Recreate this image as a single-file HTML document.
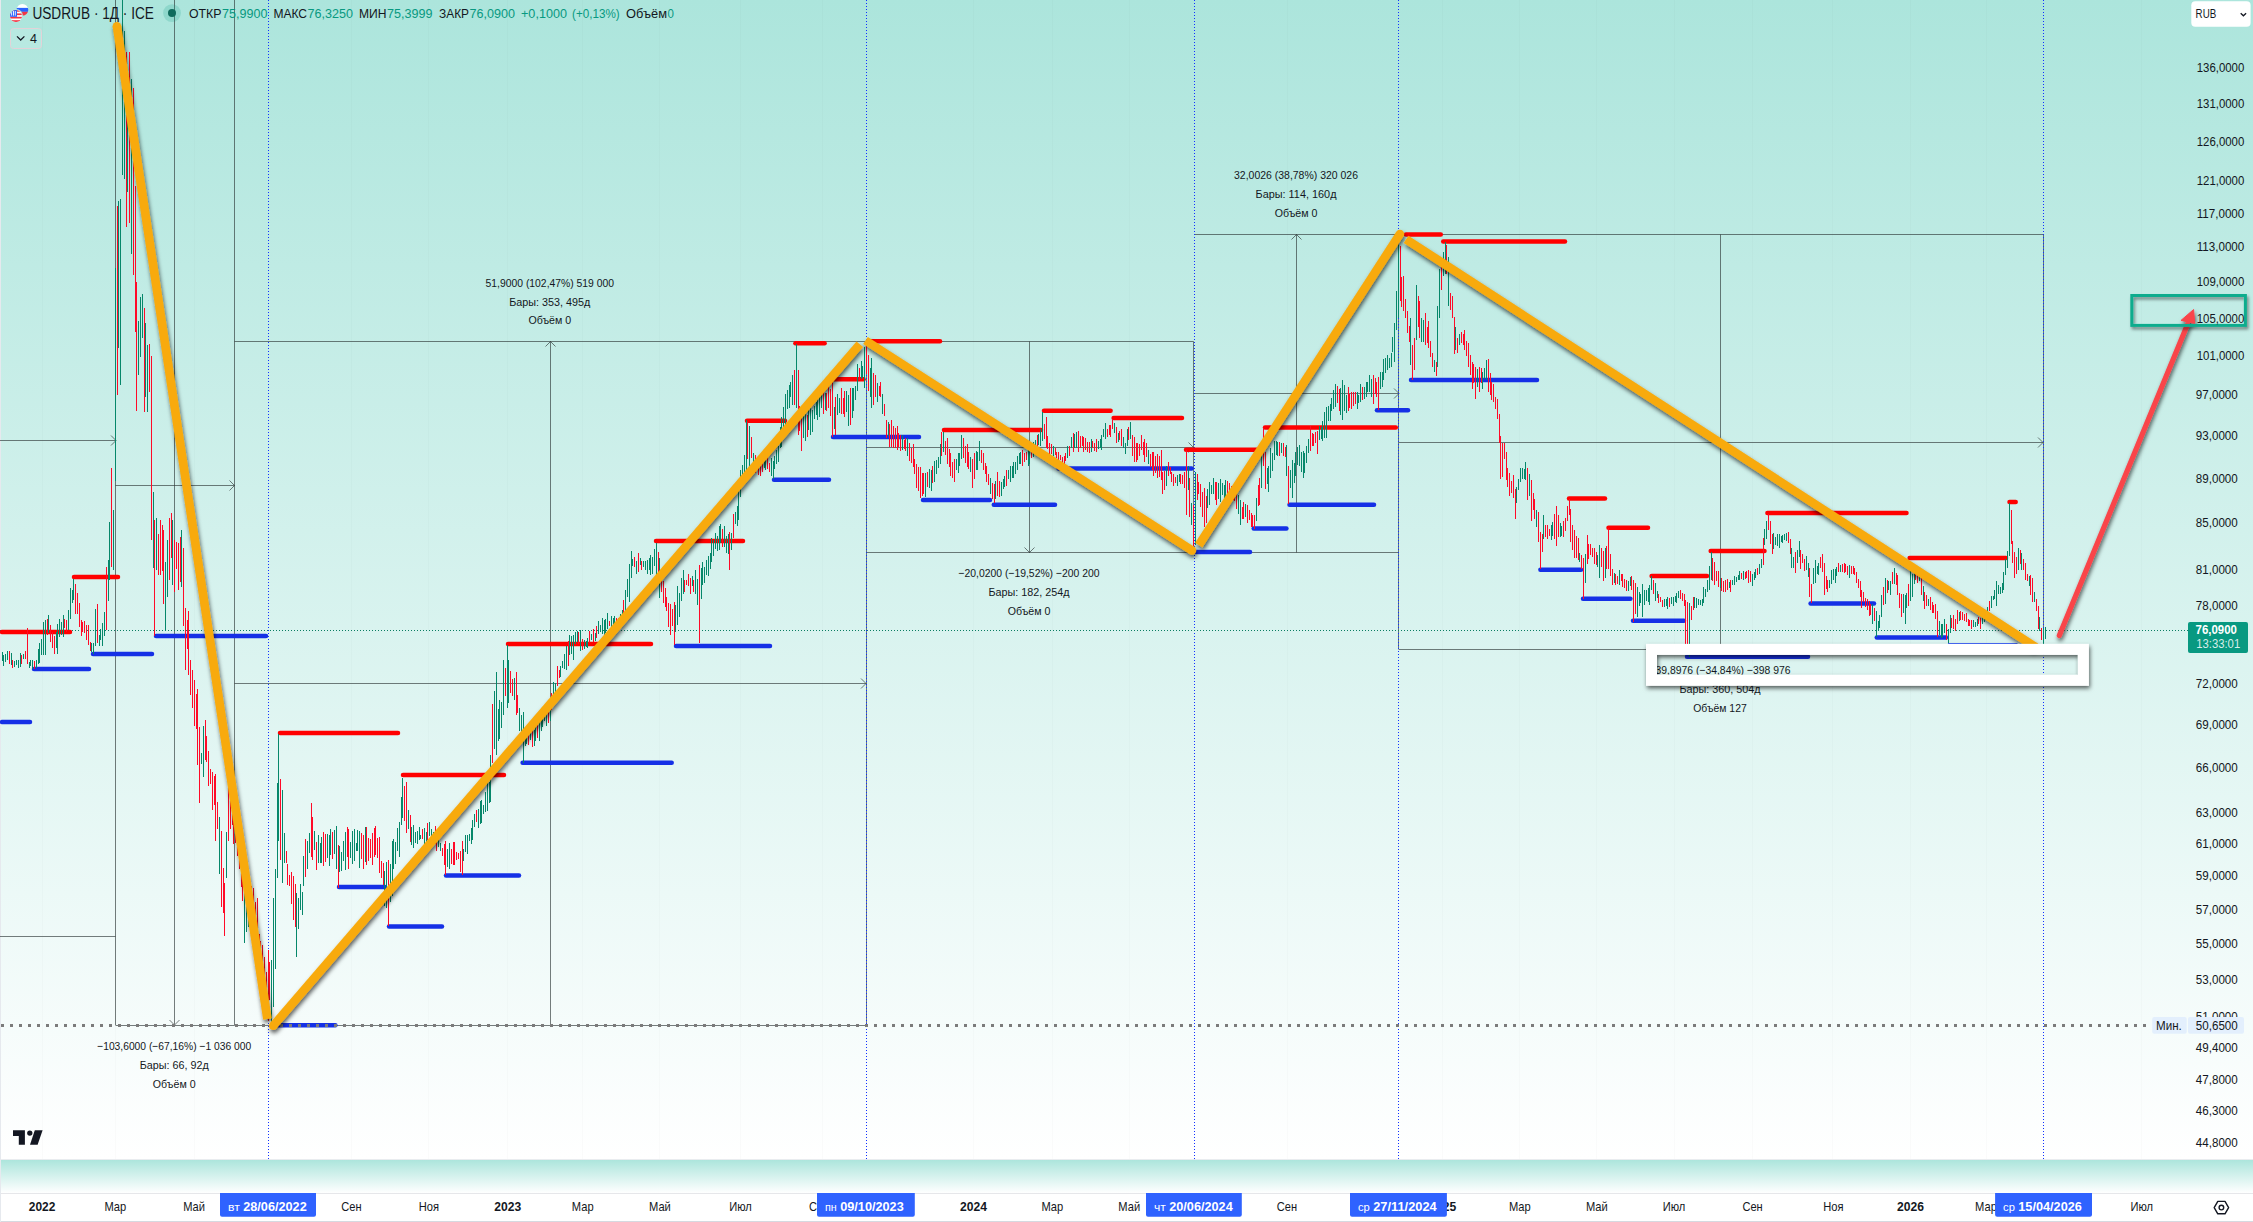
<!DOCTYPE html>
<html><head><meta charset="utf-8"><title>USDRUB</title>
<style>html,body{margin:0;padding:0;background:#fff;}body{width:2253px;height:1222px;overflow:hidden;font-family:"Liberation Sans", sans-serif;}svg{display:block;font-family:"Liberation Sans", sans-serif;}</style></head><body>
<svg width="2253" height="1222" viewBox="0 0 2253 1222">
<defs>
<linearGradient id="g1" x1="0" y1="0" x2="0" y2="1"><stop offset="0" stop-color="#ace5dc"/><stop offset="1" stop-color="#ffffff"/></linearGradient>
<filter id="sh" x="-5%" y="-5%" width="110%" height="110%" filterUnits="userSpaceOnUse" primitiveUnits="userSpaceOnUse"><feDropShadow dx="1" dy="3" stdDeviation="1.9" flood-color="#000" flood-opacity="0.62"/></filter>
<filter id="sh2" filterUnits="userSpaceOnUse" x="1600" y="600" width="560" height="140"><feDropShadow dx="1" dy="2.5" stdDeviation="2" flood-color="#000" flood-opacity="0.62"/></filter>
<filter id="sh3" filterUnits="userSpaceOnUse" x="2100" y="270" width="153" height="90"><feDropShadow dx="1.5" dy="2.5" stdDeviation="1.8" flood-color="#000" flood-opacity="0.45"/></filter>
<clipPath id="mainclip"><rect x="0" y="0" width="2253" height="1159"/></clipPath>
</defs>
<rect x="0" y="0" width="2253" height="1159" fill="url(#g1)"/>
<rect x="0" y="1160" width="2253" height="33" fill="url(#g1)"/>
<rect x="0" y="1193" width="2253" height="29" fill="#ffffff"/>
<rect x="0" y="1159" width="2253" height="1" fill="#e9ecef"/>
<rect x="0" y="1193" width="2253" height="1" fill="#e6e7ea"/>
<rect x="0" y="1221" width="2253" height="1" fill="#d6d9e0"/>
<rect x="0" y="0" width="1" height="1222" fill="#e6e9ee"/>
<g clip-path="url(#mainclip)">
<g stroke="#000" stroke-opacity="0.014" stroke-width="1" shape-rendering="crispEdges"><path d="M42.5 0V1159"/><path d="M115.5 0V1159"/><path d="M194.5 0V1159"/><path d="M351.5 0V1159"/><path d="M428.5 0V1159"/><path d="M507.5 0V1159"/><path d="M582.5 0V1159"/><path d="M659.5 0V1159"/><path d="M740.5 0V1159"/><path d="M822.5 0V1159"/><path d="M973.5 0V1159"/><path d="M1052.5 0V1159"/><path d="M1129.5 0V1159"/><path d="M1287.5 0V1159"/><path d="M1442.5 0V1159"/><path d="M1519.5 0V1159"/><path d="M1596.5 0V1159"/><path d="M1674.5 0V1159"/><path d="M1752.5 0V1159"/><path d="M1832.5 0V1159"/><path d="M1910.5 0V1159"/><path d="M1986.5 0V1159"/><path d="M2141.5 0V1159"/></g>
<path d="M0.0 440.5L116.0 440.5M111.0 435.5L116.0 440.5M111.0 445.5L116.0 440.5M0.0 936.5L115.5 936.5M115.5 0.0L115.5 1025.0M234.5 0.0L234.5 1025.0M174.5 0.0L174.5 1025.0M169.5 1020.0L174.5 1025.0M179.5 1020.0L174.5 1025.0M115.5 485.5L234.5 485.5M115.5 1025.5L234.5 1025.5M229.5 480.5L234.5 485.5M229.5 490.5L234.5 485.5M234.5 341.5L1193.5 341.5M234.5 1025.5L866.0 1025.5M550.5 341.5L550.5 1025.0M545.5 346.5L550.5 341.5M555.5 346.5L550.5 341.5M234.5 683.5L866.0 683.5M861.0 678.5L866.0 683.5M861.0 688.5L866.0 683.5M866.5 552.5L1399.0 552.5M1029.5 341.5L1029.5 552.5M1024.5 547.5L1029.5 552.5M1034.5 547.5L1029.5 552.5M866.5 447.5L1193.5 447.5M1188.5 442.5L1193.5 447.5M1188.5 452.5L1193.5 447.5M1194.5 234.5L2043.5 234.5M1296.5 234.5L1296.5 552.5M1291.5 239.5L1296.5 234.5M1301.5 239.5L1296.5 234.5M1194.5 393.5L1399.0 393.5M1394.0 388.5L1399.0 393.5M1394.0 398.5L1399.0 393.5M1398.5 234.5L1398.5 649.5M866.5 341.5L866.5 1025.5M1193.5 341.5L1193.5 552.5M2043.5 234.5L2043.5 649.5M1399.0 649.5L1660.0 649.5M1720.5 234.5L1720.5 649.5M1399.0 442.5L2043.0 442.5M2038.0 437.5L2043.0 442.5M2038.0 447.5L2043.0 442.5" stroke="#2a3433" stroke-opacity="0.64" stroke-width="1" fill="none"/>
<path d="M268.5 0V1159" stroke="#1030ff" stroke-width="1" stroke-dasharray="1 2" shape-rendering="crispEdges"/>
<path d="M866.5 0V1159" stroke="#1030ff" stroke-width="1" stroke-dasharray="1 2" shape-rendering="crispEdges"/>
<path d="M1194.5 0V1159" stroke="#1030ff" stroke-width="1" stroke-dasharray="1 2" shape-rendering="crispEdges"/>
<path d="M1398.5 0V1159" stroke="#1030ff" stroke-width="1" stroke-dasharray="1 2" shape-rendering="crispEdges"/>
<path d="M2043.5 0V1159" stroke="#1030ff" stroke-width="1" stroke-dasharray="1 2" shape-rendering="crispEdges"/>
<path d="M0 630.5H2188" stroke="#0a7d62" stroke-width="1" stroke-dasharray="1 2" shape-rendering="crispEdges"/>
<g stroke="#ff0000" stroke-width="4.5" stroke-linecap="round" fill="none"><path d="M2.0 632.0H70.0"/><path d="M74.0 577.0H118.0"/><path d="M280.0 733.0H398.0"/><path d="M403.0 775.0H504.0"/><path d="M508.0 644.0H651.0"/><path d="M656.0 541.0H743.0"/><path d="M747.0 420.8H785.0"/><path d="M795.4 343.2H824.6"/><path d="M833.7 379.2H863.6"/><path d="M869.0 341.2H940.0"/><path d="M944.0 430.0H1041.0"/><path d="M1044.0 410.7H1110.6"/><path d="M1113.6 418.0H1182.0"/><path d="M1186.0 449.8H1261.0"/><path d="M1265.0 427.4H1395.8"/><path d="M1406.0 234.5H1440.8"/><path d="M1443.2 241.6H1565.0"/><path d="M1569.0 498.6H1605.0"/><path d="M1608.5 527.7H1648.0"/><path d="M1651.6 575.9H1707.0"/><path d="M1710.7 551.0H1764.5"/><path d="M1767.4 513.0H1906.5"/><path d="M1909.6 558.0H2006.0"/><path d="M2009.5 502.0H2015.7"/></g>
<g stroke="#1530e6" stroke-width="4.5" stroke-linecap="round" fill="none"><path d="M2.0 722.0H30.0"/><path d="M34.0 669.0H89.0"/><path d="M93.0 654.0H152.0"/><path d="M156.0 636.0H266.0"/><path d="M272.0 1025.2H335.4"/><path d="M339.0 887.0H385.0"/><path d="M389.0 926.5H442.0"/><path d="M446.0 875.4H519.0"/><path d="M522.6 762.7H671.7"/><path d="M676.0 646.0H770.0"/><path d="M774.0 479.7H829.0"/><path d="M833.0 437.0H919.0"/><path d="M923.0 500.0H990.0"/><path d="M993.8 504.8H1055.0"/><path d="M1058.6 468.6H1191.7"/><path d="M1196.0 552.0H1250.0"/><path d="M1253.7 528.4H1286.4"/><path d="M1289.5 504.7H1374.0"/><path d="M1377.0 410.2H1408.0"/><path d="M1411.0 380.0H1537.0"/><path d="M1540.4 569.7H1581.0"/><path d="M1583.0 598.8H1630.4"/><path d="M1633.0 620.8H1684.0"/><path d="M1687.0 656.8H1808.0"/><path d="M1810.6 603.5H1874.0"/><path d="M1876.8 637.5H1946.0"/></g>
<path d="M1948 643.5H2017.5" stroke="#2a50f0" stroke-width="1.2"/>
<path d="M2.5 652.0V661.0M3.5 654.6V666.0M5.5 653.6V661.7M7.5 651.0V659.5M11.5 653.0V665.0M14.5 661.0V666.8M16.5 660.4V664.7M18.5 659.5V667.7M20.5 653.0V666.8M23.5 653.9V659.0M29.5 662.0V667.7M30.5 660.4V665.6M32.5 659.5V669.0M36.5 659.5V667.7M38.5 649.2V664.4M39.5 643.0V662.7M41.5 639.0V654.6M43.5 621.8V654.6M45.5 620.0V654.6M48.5 615.0V633.0M56.5 631.8V647.9M57.5 623.5V653.7M59.5 619.0V636.5M61.5 621.8V635.0M63.5 615.0V636.5M68.5 609.5V630.0M70.5 588.0V618.5M72.5 590.0V603.0M73.5 578.5V599.7M91.5 643.0V651.7M93.5 643.0V653.7M95.5 608.7V646.0M99.5 635.0V645.6M100.5 628.6V639.6M102.5 622.6V645.6M104.5 612.0V635.7M108.5 560.0V600.5M109.5 522.0V580.3M113.5 510.0V570.0M115.5 268.0V481.0M118.5 200.5V347.6M120.5 199.0V385.0M122.5 0.0V175.0M124.5 31.0V179.0M127.5 104.8V192.4M131.5 79.0V254.0M138.5 321.3V375.4M140.5 297.0V357.0M142.5 294.0V338.0M145.5 323.4V397.2M147.5 345.0V412.0M153.5 492.0V568.0M156.5 518.0V570.0M165.5 562.0V631.0M167.5 539.5V597.1M172.5 520.0V585.0M181.5 530.0V587.0M201.5 752.5V764.3M203.5 725.9V777.4M219.5 816.9V874.0M226.5 832.1V878.3M244.5 874.0V943.0M246.5 888.3V931.8M248.5 895.1V926.7M250.5 891.4V913.5M271.5 960.0V1026.0M273.5 898.0V1007.0M275.5 869.0V969.0M277.5 783.1V877.5M278.5 734.0V841.0M282.5 790.0V883.0M284.5 833.0V862.7M296.5 893.0V957.0M298.5 897.5V929.1M300.5 884.1V910.4M302.5 891.8V915.1M303.5 856.1V886.3M307.5 840.6V869.3M309.5 833.1V853.4M314.5 830.7V850.3M318.5 834.6V862.9M320.5 843.3V862.7M321.5 837.0V862.8M327.5 834.4V858.4M329.5 835.0V865.9M330.5 829.4V854.9M334.5 830.1V853.5M336.5 826.0V869.0M339.5 846.2V871.9M341.5 851.6V870.8M343.5 841.4V861.1M345.5 831.6V870.1M350.5 842.2V857.5M352.5 830.8V864.3M354.5 828.8V861.0M356.5 843.0V851.0M357.5 829.5V850.6M359.5 831.1V867.8M365.5 827.3V862.4M384.5 870.8V905.7M386.5 861.9V908.1M390.5 864.3V902.4M392.5 841.0V896.0M393.5 839.3V869.4M395.5 841.8V864.3M397.5 828.3V851.2M399.5 822.0V857.0M401.5 796.7V824.5M402.5 778.0V818.0M408.5 810.4V828.5M411.5 827.2V844.7M413.5 824.9V847.5M415.5 832.1V842.6M417.5 830.5V844.3M419.5 827.1V839.7M420.5 834.5V838.7M424.5 827.7V843.5M426.5 831.6V843.4M429.5 821.7V836.0M431.5 828.6V836.6M433.5 831.8V841.6M438.5 835.8V846.9M440.5 843.1V850.7M447.5 848.6V866.5M449.5 843.3V868.7M463.5 848.5V860.8M465.5 834.7V852.1M467.5 835.0V854.1M469.5 833.5V841.3M471.5 827.9V844.2M472.5 820.4V840.4M474.5 813.9V827.3M478.5 808.8V828.2M480.5 801.4V823.9M481.5 799.8V822.8M483.5 804.8V814.4M485.5 791.9V812.0M487.5 781.0V811.3M489.5 781.7V803.1M490.5 755.0V802.0M494.5 691.3V749.0M496.5 672.0V755.0M498.5 708.7V740.5M499.5 700.0V739.0M501.5 702.0V728.0M503.5 660.0V715.0M507.5 645.0V708.0M508.5 660.3V702.9M514.5 677.7V700.2M519.5 708.0V731.0M521.5 715.4V740.0M523.5 712.0V763.0M525.5 727.4V746.2M526.5 725.7V744.0M530.5 730.2V739.6M534.5 729.7V745.8M535.5 726.2V740.6M539.5 717.7V741.3M541.5 717.1V730.8M542.5 718.3V727.0M544.5 708.4V721.2M546.5 711.2V726.2M550.5 699.3V720.9M553.5 681.8V704.2M555.5 683.4V697.7M560.5 665.5V677.0M562.5 660.8V667.9M564.5 654.2V669.4M566.5 646.2V670.3M569.5 634.5V654.9M571.5 635.6V653.6M573.5 634.6V659.9M575.5 631.7V644.3M577.5 630.7V642.3M580.5 630.0V651.4M584.5 639.8V649.1M586.5 641.1V647.2M587.5 638.0V648.2M591.5 633.8V639.8M595.5 632.5V640.5M598.5 621.4V633.5M600.5 624.8V631.9M602.5 617.7V634.4M604.5 619.9V635.2M605.5 619.2V632.6M607.5 612.8V629.1M611.5 615.8V631.7M613.5 617.6V626.1M614.5 615.5V627.2M620.5 614.2V622.5M622.5 610.1V619.6M625.5 590.0V613.0M627.5 579.3V597.0M629.5 564.0V602.0M631.5 551.0V578.0M632.5 558.9V566.1M636.5 560.7V573.9M640.5 557.6V565.0M643.5 561.3V566.5M645.5 561.0V569.8M647.5 560.4V573.9M649.5 557.6V570.3M650.5 554.5V575.4M652.5 557.0V573.8M654.5 549.1V566.2M656.5 543.0V578.0M659.5 558.0V598.0M675.5 604.7V632.1M677.5 586.0V625.0M679.5 592.8V617.3M681.5 577.7V600.5M683.5 570.0V594.0M692.5 576.2V586.0M695.5 570.0V594.0M697.5 579.1V605.0M701.5 568.3V598.8M702.5 562.0V585.0M704.5 567.1V582.9M706.5 559.8V575.3M708.5 556.0V576.0M710.5 553.1V568.7M711.5 538.0V562.0M713.5 539.8V555.8M715.5 533.0V549.0M717.5 535.9V551.0M719.5 526.0V550.0M720.5 524.2V543.2M724.5 526.0V547.0M726.5 536.4V553.0M728.5 534.1V554.1M731.5 533.4V549.6M735.5 512.3V523.7M737.5 506.0V525.6M738.5 491.0V520.0M740.5 470.0V497.0M742.5 465.2V482.1M744.5 455.0V479.0M746.5 420.0V473.0M749.5 426.0V467.0M753.5 453.0V469.1M764.5 454.7V467.6M765.5 450.0V470.0M771.5 458.0V476.0M773.5 461.0V479.0M774.5 455.8V468.7M776.5 450.0V464.0M778.5 446.2V461.5M780.5 427.3V448.2M781.5 417.0V447.0M783.5 406.9V427.1M785.5 394.0V426.0M787.5 390.2V408.8M789.5 385.0V408.0M790.5 381.8V396.6M792.5 375.4V404.7M796.5 343.6V408.0M803.5 416.1V438.0M805.5 414.0V441.0M808.5 409.3V429.7M810.5 408.0V435.0M812.5 409.9V432.4M814.5 406.1V418.6M816.5 402.0V414.5M817.5 397.0V420.0M819.5 396.0V416.7M821.5 392.1V407.6M825.5 392.7V410.0M834.5 406.6V428.9M837.5 393.8V415.4M839.5 398.0V412.8M846.5 390.5V411.9M848.5 394.6V425.5M852.5 387.9V417.7M853.5 388.0V411.0M855.5 386.4V400.3M857.5 364.0V391.0M861.5 361.0V379.0M862.5 366.1V377.6M864.5 346.5V388.0M870.5 367.6V397.0M871.5 358.0V408.0M877.5 383.0V402.0M882.5 394.0V414.0M888.5 421.6V435.7M902.5 435.0V450.0M907.5 438.0V455.5M925.5 473.0V497.0M929.5 469.4V488.4M931.5 470.0V491.0M934.5 461.0V482.0M936.5 460.1V474.2M938.5 456.7V467.7M940.5 444.0V464.0M943.5 432.2V452.1M956.5 458.8V470.3M958.5 452.6V473.0M959.5 453.1V466.1M961.5 435.0V458.5M970.5 456.6V472.2M976.5 450.6V470.3M977.5 451.7V469.9M979.5 441.0V461.0M990.5 478.0V494.0M995.5 481.3V498.9M1001.5 482.0V495.6M1003.5 478.5V488.8M1004.5 476.4V486.9M1008.5 469.9V478.9M1010.5 466.0V482.0M1012.5 465.6V478.3M1013.5 462.0V478.0M1015.5 461.9V474.1M1017.5 456.0V470.0M1019.5 452.6V464.1M1020.5 452.0V463.8M1028.5 450.0V466.0M1029.5 450.8V463.5M1033.5 442.3V456.6M1035.5 439.5V450.6M1038.5 433.5V445.4M1040.5 428.8V446.4M1042.5 412.0V440.5M1053.5 446.0V456.0M1067.5 446.0V458.0M1071.5 437.4V447.8M1074.5 434.0V448.0M1076.5 432.2V447.6M1091.5 438.6V452.0M1098.5 440.5V449.2M1100.5 438.5V447.9M1101.5 434.7V450.0M1103.5 429.2V436.9M1105.5 423.0V438.6M1114.5 422.9V433.1M1118.5 432.5V442.2M1123.5 437.4V448.1M1125.5 442.5V454.0M1127.5 428.8V446.4M1130.5 422.0V438.6M1148.5 450.0V464.0M1166.5 466.0V485.7M1177.5 475.0V485.7M1179.5 473.7V481.7M1188.5 466.0V489.7M1191.5 503.3V525.4M1195.5 472.0V544.7M1207.5 489.4V507.9M1209.5 481.8V505.0M1211.5 485.3V494.3M1213.5 477.9V493.6M1218.5 483.0V499.2M1220.5 478.9V501.5M1222.5 482.6V494.9M1224.5 484.8V498.7M1225.5 479.8V497.5M1238.5 494.5V514.2M1240.5 499.5V525.0M1245.5 504.2V516.7M1256.5 497.5V521.0M1261.5 454.0V487.7M1267.5 468.3V483.5M1268.5 466.0V491.6M1270.5 448.0V477.9M1272.5 453.2V471.1M1274.5 440.5V460.0M1276.5 440.5V455.0M1277.5 442.0V455.7M1281.5 443.0V453.1M1286.5 444.5V476.0M1290.5 469.9V487.8M1292.5 460.0V497.5M1294.5 463.1V482.6M1295.5 452.0V476.0M1297.5 447.4V465.0M1299.5 444.5V466.0M1301.5 452.3V471.7M1303.5 450.7V477.7M1304.5 453.3V472.8M1306.5 445.8V463.0M1308.5 439.0V453.1M1319.5 426.2V440.2M1321.5 426.5V439.2M1322.5 421.0V440.9M1324.5 412.2V437.9M1326.5 406.5V438.0M1328.5 406.3V421.0M1330.5 404.0V421.0M1331.5 397.5V410.7M1333.5 389.9V409.4M1335.5 384.0V406.5M1340.5 387.7V414.7M1342.5 379.5V420.0M1344.5 384.5V411.2M1346.5 395.1V412.8M1357.5 391.8V409.0M1358.5 394.6V403.1M1360.5 384.0V401.6M1364.5 387.4V398.6M1366.5 382.0V396.7M1367.5 381.5V391.5M1369.5 374.6V391.8M1371.5 378.7V396.5M1380.5 372.0V389.0M1382.5 372.0V386.5M1383.5 358.6V379.5M1385.5 357.8V372.8M1387.5 355.0V369.7M1389.5 357.5V367.7M1391.5 352.5V367.0M1392.5 336.8V351.6M1394.5 323.0V362.0M1396.5 291.0V330.0M1398.5 244.5V318.0M1410.5 318.0V364.8M1416.5 285.0V340.0M1421.5 318.0V341.5M1423.5 319.6V342.1M1434.5 359.9V372.0M1437.5 306.0V367.0M1439.5 269.0V318.0M1443.5 252.0V276.4M1445.5 241.5V274.0M1448.5 256.8V305.9M1455.5 326.9V349.5M1459.5 333.7V344.7M1477.5 369.3V386.9M1482.5 372.0V389.0M1484.5 367.5V379.4M1486.5 359.9V379.5M1516.5 486.5V502.5M1518.5 479.2V490.1M1520.5 468.0V482.0M1522.5 467.7V478.8M1524.5 469.1V479.1M1525.5 462.0V479.6M1529.5 473.7V496.3M1536.5 510.2V527.4M1543.5 515.0V539.0M1551.5 525.0V540.0M1552.5 522.1V535.7M1560.5 523.0V537.0M1561.5 526.0V536.4M1579.5 552.9V561.5M1585.5 554.1V583.2M1597.5 555.0V566.7M1599.5 545.0V578.0M1605.5 548.0V578.0M1614.5 573.1V582.9M1619.5 570.0V585.0M1628.5 581.3V590.7M1630.5 577.3V585.5M1637.5 587.0V617.0M1639.5 592.1V606.2M1640.5 594.0V603.0M1642.5 583.9V617.0M1644.5 589.5V605.1M1646.5 589.6V601.0M1648.5 587.6V601.5M1649.5 585.0V604.5M1651.5 576.0V589.6M1655.5 582.7V601.0M1657.5 591.4V598.4M1664.5 598.8V606.8M1666.5 599.0V605.8M1667.5 596.5V609.0M1671.5 596.9V603.9M1673.5 596.5V605.6M1675.5 596.4V602.4M1676.5 593.0V603.0M1678.5 590.9V597.6M1689.5 603.0V657.0M1694.5 596.7V607.5M1696.5 597.6V608.0M1698.5 598.7V605.0M1700.5 599.9V604.9M1702.5 598.8V605.6M1703.5 587.0V603.0M1705.5 589.2V597.3M1707.5 580.0V592.0M1709.5 565.5V589.6M1711.5 552.0V580.0M1720.5 578.4V587.9M1729.5 582.2V588.3M1732.5 579.7V585.2M1734.5 575.9V585.0M1736.5 576.6V582.0M1738.5 575.4V580.4M1739.5 571.0V580.0M1743.5 571.0V580.0M1752.5 573.6V586.0M1754.5 571.5V579.7M1755.5 569.0V578.0M1759.5 564.0V573.6M1761.5 559.0V568.0M1764.5 528.8V544.6M1766.5 521.0V539.0M1773.5 533.0V549.0M1775.5 536.6V544.6M1777.5 534.4V546.1M1779.5 534.0V547.5M1781.5 535.9V542.1M1782.5 535.0V543.0M1784.5 534.0V540.0M1786.5 533.1V541.0M1791.5 547.5V568.0M1793.5 557.0V568.0M1797.5 550.0V562.8M1799.5 541.0V557.0M1806.5 555.6V570.0M1808.5 562.8V577.0M1813.5 568.0V584.0M1815.5 560.0V582.6M1817.5 566.4V573.9M1818.5 562.8V574.5M1829.5 580.0V588.0M1831.5 570.0V583.5M1833.5 568.5V579.6M1835.5 569.0V582.6M1836.5 567.0V576.0M1840.5 565.4V571.9M1849.5 564.6V578.0M1872.5 604.0V624.0M1876.5 611.0V636.6M1878.5 621.1V630.5M1879.5 615.0V627.6M1881.5 595.0V616.8M1885.5 578.0V604.0M1888.5 581.0V589.7M1890.5 580.8V595.0M1894.5 568.0V584.0M1903.5 594.0V613.0M1905.5 595.0V624.0M1906.5 593.3V607.6M1910.5 569.0V600.6M1912.5 573.6V597.0M1914.5 570.0V584.0M1919.5 575.0V580.8M1923.5 585.9V600.5M1928.5 598.9V605.6M1939.5 621.0V634.6M1941.5 624.0V638.0M1942.5 624.0V636.6M1944.5 618.6V633.0M1948.5 629.0V643.0M1950.5 615.0V633.0M1959.5 612.2V620.5M1973.5 620.0V626.7M1975.5 621.5V626.5M1977.5 618.6V625.8M1982.5 615.2V623.8M1984.5 615.0V622.0M1985.5 609.6V620.0M1987.5 606.5V613.5M1991.5 596.0V607.8M1993.5 595.6V600.4M1994.5 589.8V598.8M1996.5 580.8V606.0M1998.5 585.0V594.0M2000.5 587.0V594.1M2002.5 582.6V592.5M2003.5 571.8V589.8M2005.5 559.0V575.0M2007.5 551.0V568.0M2009.5 502.5V555.6M2018.5 548.0V570.0M2021.5 552.9V570.0M2029.5 576.0V585.8M2034.5 591.6V602.0M2039.5 616.8V631.0M2043.5 627.6V643.8M2045.5 626.7V639.0" stroke="#06876a" stroke-width="1" fill="none" shape-rendering="crispEdges"/>
<path d="M9.5 651.0V664.0M12.5 660.0V667.7M21.5 654.6V663.6M25.5 650.5V658.7M27.5 628.0V663.6M34.5 661.0V668.5M47.5 618.8V635.2M50.5 625.0V642.0M52.5 631.6V648.0M54.5 635.7V653.7M64.5 619.3V627.8M66.5 620.0V631.6M75.5 584.0V613.6M77.5 593.0V613.6M79.5 603.0V626.7M81.5 620.0V635.7M82.5 621.5V631.7M84.5 621.0V632.5M86.5 625.0V639.8M88.5 625.0V644.7M90.5 641.5V651.0M97.5 603.8V643.0M106.5 567.0V630.0M111.5 468.0V567.0M117.5 206.0V395.0M126.5 52.0V227.0M129.5 52.0V223.0M133.5 88.0V275.0M135.5 186.0V332.0M136.5 282.0V411.0M144.5 308.0V412.0M149.5 344.0V392.0M151.5 356.0V540.0M154.5 520.0V636.0M158.5 534.3V575.2M160.5 520.0V575.0M162.5 524.9V570.7M163.5 530.0V604.0M169.5 518.0V580.0M171.5 513.1V558.2M174.5 540.0V592.0M176.5 541.7V569.4M178.5 543.0V590.0M180.5 537.2V581.7M183.5 548.0V626.0M185.5 608.0V670.0M187.5 619.8V648.9M188.5 611.0V675.0M190.5 660.3V695.2M192.5 670.0V708.0M194.5 680.3V726.3M196.5 693.8V729.3M197.5 689.0V765.0M199.5 727.0V803.0M205.5 720.3V760.0M206.5 736.4V762.3M208.5 751.1V786.0M210.5 769.3V784.4M212.5 771.8V810.0M214.5 776.0V805.3M215.5 774.0V841.0M217.5 802.2V829.0M221.5 831.0V907.0M223.5 867.9V912.9M224.5 883.0V936.0M228.5 779.0V841.0M230.5 801.0V829.1M232.5 799.6V824.6M233.5 802.3V843.7M235.5 815.2V843.0M237.5 830.0V856.3M239.5 842.0V868.6M241.5 865.9V886.5M242.5 871.3V901.2M251.5 885.7V909.0M253.5 887.7V921.5M255.5 901.5V930.5M257.5 898.0V959.0M259.5 933.7V948.1M260.5 941.4V965.0M262.5 945.0V988.0M264.5 956.7V982.1M266.5 971.6V987.8M268.5 950.0V1021.0M269.5 961.9V999.5M280.5 779.0V860.0M286.5 850.7V863.3M287.5 864.2V884.5M289.5 874.7V886.4M291.5 871.8V904.1M293.5 876.3V920.2M295.5 883.5V926.5M305.5 839.0V877.3M311.5 803.2V856.9M312.5 817.1V859.8M316.5 841.6V869.6M323.5 831.6V865.7M325.5 834.3V861.5M332.5 831.8V859.0M338.5 845.0V888.0M347.5 826.6V856.5M348.5 828.7V868.8M361.5 833.4V858.9M363.5 834.5V868.9M366.5 826.5V865.0M368.5 837.6V861.4M370.5 838.7V857.8M372.5 833.2V865.2M374.5 828.2V857.3M375.5 825.8V855.0M377.5 837.9V857.9M379.5 836.8V873.1M381.5 861.2V877.7M383.5 863.4V884.5M388.5 860.0V926.0M404.5 785.9V820.9M406.5 782.0V833.0M410.5 815.1V842.3M422.5 828.8V839.0M427.5 822.8V839.7M435.5 826.2V844.4M436.5 832.4V850.6M442.5 848.4V856.4M444.5 844.3V864.9M445.5 841.0V875.0M451.5 848.9V864.1M453.5 842.3V865.0M454.5 842.2V864.6M456.5 851.6V860.0M458.5 852.8V859.3M460.5 851.1V871.5M462.5 841.0V875.0M476.5 809.6V822.3M492.5 704.0V763.0M505.5 668.4V696.0M510.5 671.2V692.8M512.5 679.0V695.7M516.5 672.0V715.0M517.5 694.7V712.8M528.5 727.1V744.6M532.5 724.9V746.6M537.5 720.6V737.5M548.5 706.6V722.5M551.5 693.1V710.0M557.5 665.6V686.0M559.5 669.7V677.6M568.5 641.3V666.3M578.5 632.3V643.7M582.5 639.1V649.6M589.5 630.8V643.0M593.5 629.0V641.6M596.5 626.0V637.9M609.5 621.4V625.7M616.5 618.1V624.0M618.5 617.6V626.7M623.5 599.8V615.0M634.5 556.9V567.2M638.5 553.3V571.7M641.5 561.0V569.8M658.5 552.4V579.7M661.5 571.4V592.2M663.5 580.5V602.9M665.5 588.2V606.7M666.5 596.8V610.7M668.5 603.3V627.2M670.5 603.9V634.5M672.5 609.0V626.2M674.5 602.0V645.0M684.5 580.3V592.4M686.5 579.6V585.0M688.5 573.9V585.7M690.5 577.6V594.3M693.5 579.6V592.2M699.5 565.0V643.0M722.5 529.0V547.3M729.5 532.0V570.0M733.5 514.0V538.0M747.5 422.3V458.9M751.5 436.5V457.6M755.5 455.0V473.0M756.5 459.0V470.4M758.5 462.5V475.2M760.5 458.0V476.0M762.5 458.7V471.5M767.5 455.1V469.2M769.5 462.5V472.2M794.5 370.0V405.0M798.5 370.0V435.0M799.5 406.2V431.0M801.5 417.0V451.0M807.5 414.7V437.1M823.5 391.0V414.0M826.5 393.2V410.7M828.5 385.0V408.0M830.5 389.2V415.7M832.5 379.0V437.0M835.5 397.0V435.0M841.5 388.0V414.0M843.5 397.6V413.5M844.5 391.0V417.0M850.5 388.0V425.0M859.5 367.9V380.2M866.5 344.5V374.0M868.5 355.0V391.0M873.5 372.5V405.1M875.5 375.4V397.4M879.5 386.2V395.5M880.5 382.0V397.0M884.5 404.1V416.4M886.5 420.0V438.0M889.5 423.6V446.7M891.5 420.0V447.0M893.5 426.0V448.0M895.5 427.7V447.6M897.5 426.0V450.0M898.5 433.1V446.6M900.5 435.2V450.5M904.5 440.4V449.1M905.5 438.3V451.0M909.5 442.6V460.7M911.5 447.8V463.3M913.5 444.0V467.0M914.5 459.0V473.5M916.5 464.0V488.0M918.5 467.1V490.9M920.5 467.0V498.0M922.5 472.7V496.0M923.5 473.2V494.3M927.5 471.6V487.4M932.5 465.5V483.3M941.5 432.0V455.5M945.5 441.2V455.1M947.5 438.0V464.0M949.5 448.6V467.4M950.5 452.6V476.0M952.5 462.0V478.4M954.5 458.5V482.0M963.5 438.4V458.1M965.5 445.9V463.0M967.5 444.0V467.0M968.5 452.2V469.1M972.5 458.5V488.0M974.5 452.6V479.0M981.5 450.2V462.5M983.5 452.6V470.0M985.5 462.6V473.6M986.5 466.0V482.0M988.5 474.3V485.0M992.5 482.7V498.6M994.5 484.0V503.4M997.5 472.0V495.6M999.5 481.1V497.0M1006.5 470.0V486.0M1022.5 450.0V466.0M1024.5 452.5V462.3M1026.5 451.8V459.5M1031.5 442.5V458.0M1037.5 434.7V452.0M1044.5 424.1V439.1M1046.5 417.0V448.0M1047.5 435.8V448.8M1049.5 442.5V454.0M1051.5 444.1V453.7M1055.5 447.5V455.3M1056.5 451.8V458.3M1058.5 452.0V460.0M1060.5 454.9V459.8M1062.5 456.9V463.9M1064.5 456.0V468.0M1065.5 453.3V460.7M1069.5 445.7V455.9M1073.5 432.7V452.0M1078.5 430.7V452.0M1080.5 436.1V448.4M1082.5 435.7V445.6M1083.5 436.6V452.0M1085.5 437.7V449.9M1087.5 441.6V452.4M1089.5 442.1V453.4M1092.5 441.1V448.3M1094.5 443.4V450.7M1096.5 438.6V452.0M1107.5 428.5V436.8M1109.5 425.4V435.1M1110.5 425.0V436.6M1112.5 419.0V428.8M1116.5 426.8V442.5M1119.5 430.8V440.1M1121.5 428.8V446.4M1128.5 426.8V439.8M1132.5 434.6V455.9M1134.5 436.6V462.0M1136.5 442.9V461.9M1137.5 442.5V460.0M1139.5 443.7V456.1M1141.5 434.7V450.0M1143.5 442.2V455.0M1144.5 438.6V462.0M1146.5 442.6V457.0M1150.5 453.6V466.6M1152.5 451.8V470.4M1153.5 452.0V476.0M1155.5 455.5V472.7M1157.5 454.0V478.0M1159.5 455.9V477.2M1161.5 450.0V480.0M1162.5 472.0V493.6M1164.5 471.1V489.5M1168.5 462.0V476.0M1170.5 467.0V474.0M1171.5 472.3V481.9M1173.5 474.0V485.7M1175.5 477.2V483.3M1180.5 474.0V483.8M1182.5 474.6V484.2M1184.5 472.0V487.7M1186.5 450.0V515.0M1189.5 478.0V517.0M1193.5 505.0V551.5M1197.5 474.0V499.5M1198.5 481.9V494.0M1200.5 483.8V507.0M1202.5 491.8V516.7M1204.5 487.7V527.0M1206.5 495.6V523.0M1215.5 481.9V499.7M1216.5 481.8V505.0M1227.5 481.2V496.7M1229.5 482.8V495.6M1231.5 485.9V495.8M1233.5 485.7V499.5M1234.5 493.0V500.8M1236.5 491.6V509.0M1242.5 506.5V518.7M1243.5 501.5V519.0M1247.5 505.0V523.0M1249.5 510.0V520.4M1251.5 513.0V527.0M1252.5 515.4V526.9M1254.5 515.0V529.0M1258.5 484.8V505.7M1259.5 477.9V505.0M1263.5 427.8V466.0M1265.5 452.0V488.7M1279.5 441.5V456.0M1283.5 442.5V456.0M1285.5 447.3V456.7M1288.5 466.0V504.4M1310.5 426.0V450.7M1312.5 432.8V446.0M1313.5 433.5V445.8M1315.5 432.4V443.4M1317.5 431.0V454.0M1337.5 386.1V402.9M1339.5 389.0V411.0M1348.5 386.9V411.0M1349.5 394.3V408.3M1351.5 391.8V409.0M1353.5 392.0V406.4M1355.5 391.9V404.1M1362.5 386.9V399.8M1373.5 374.6V404.0M1375.5 377.9V393.8M1376.5 382.0V396.7M1378.5 377.0V410.0M1400.5 246.0V301.0M1401.5 277.1V307.2M1403.5 276.0V311.0M1405.5 298.5V318.0M1407.5 311.0V333.0M1409.5 326.1V341.9M1412.5 345.0V379.5M1414.5 337.8V369.7M1418.5 296.3V326.9M1419.5 301.0V337.8M1425.5 313.0V345.0M1427.5 327.3V343.0M1428.5 320.6V347.6M1430.5 340.8V356.8M1432.5 352.5V367.0M1436.5 362.0V375.8M1441.5 263.5V289.7M1446.5 244.5V274.0M1450.5 292.5V310.0M1452.5 296.0V318.0M1454.5 317.0V353.7M1457.5 337.8V352.5M1461.5 331.6V342.7M1463.5 334.2V344.7M1464.5 330.4V350.0M1466.5 341.0V355.5M1468.5 342.7V367.0M1470.5 354.8V375.1M1472.5 362.0V389.0M1473.5 363.8V382.8M1475.5 367.0V399.0M1479.5 367.0V391.8M1481.5 367.6V382.8M1488.5 358.6V391.8M1490.5 373.4V395.2M1491.5 382.0V400.0M1493.5 384.0V401.6M1495.5 397.3V408.5M1497.5 399.0V418.8M1499.5 413.9V443.0M1500.5 436.0V478.9M1502.5 443.0V477.0M1504.5 443.0V459.0M1506.5 452.0V479.6M1507.5 468.4V486.7M1509.5 472.7V495.6M1511.5 481.0V493.4M1513.5 475.0V498.0M1515.5 488.8V518.6M1527.5 468.0V500.0M1531.5 479.6V520.8M1533.5 492.5V509.6M1534.5 499.0V518.6M1538.5 511.7V541.5M1540.5 532.0V569.0M1542.5 533.5V551.6M1545.5 525.1V537.0M1547.5 525.0V539.0M1549.5 528.5V535.9M1554.5 514.0V539.0M1556.5 506.0V546.0M1558.5 515.4V537.1M1563.5 521.0V537.0M1565.5 518.2V530.9M1567.5 506.0V521.0M1569.5 499.0V515.0M1570.5 509.4V541.5M1572.5 524.8V549.9M1574.5 530.0V557.5M1576.5 536.1V557.6M1578.5 538.0V559.8M1581.5 555.0V569.0M1583.5 557.5V598.8M1587.5 534.6V564.0M1588.5 543.9V558.7M1590.5 543.8V555.0M1592.5 547.9V556.8M1594.5 548.0V564.0M1596.5 552.3V564.6M1601.5 547.6V566.8M1603.5 550.6V580.7M1606.5 546.0V569.0M1608.5 528.0V569.0M1610.5 553.7V576.0M1612.5 569.0V585.0M1615.5 573.6V585.0M1617.5 575.8V583.6M1621.5 574.2V580.7M1622.5 573.6V587.0M1624.5 579.0V587.8M1626.5 580.0V590.8M1631.5 575.9V589.6M1633.5 580.0V621.7M1635.5 582.9V614.2M1653.5 580.2V594.1M1658.5 594.0V603.0M1660.5 597.2V602.4M1662.5 600.0V606.5M1669.5 597.7V606.5M1680.5 589.6V598.8M1682.5 593.0V600.8M1684.5 594.0V605.6M1685.5 600.0V644.6M1687.5 601.9V645.6M1691.5 605.7V619.5M1693.5 596.5V610.0M1712.5 558.2V580.6M1714.5 562.0V585.0M1716.5 570.9V581.4M1718.5 571.0V587.0M1721.5 578.0V590.8M1723.5 581.2V592.3M1725.5 580.0V592.0M1727.5 579.3V590.0M1730.5 580.0V592.0M1741.5 572.7V579.2M1745.5 571.7V579.4M1746.5 571.4V577.6M1748.5 570.0V582.7M1750.5 571.2V582.1M1757.5 567.9V574.5M1763.5 537.6V564.6M1768.5 514.0V530.0M1770.5 520.5V544.0M1772.5 534.0V553.8M1788.5 532.0V543.0M1790.5 539.0V553.8M1795.5 552.0V572.7M1800.5 550.0V569.0M1802.5 553.9V563.3M1804.5 559.3V570.6M1809.5 568.0V597.0M1811.5 584.0V603.0M1820.5 557.0V568.0M1822.5 553.8V571.8M1824.5 562.8V595.0M1826.5 576.1V589.2M1827.5 580.0V591.6M1838.5 562.8V571.8M1842.5 563.9V571.6M1844.5 562.8V572.7M1845.5 563.7V571.8M1847.5 565.7V575.4M1851.5 566.1V573.5M1853.5 566.0V573.6M1854.5 568.0V575.0M1856.5 571.8V582.6M1858.5 578.5V588.1M1860.5 580.8V597.0M1861.5 589.8V607.8M1863.5 591.6V602.0M1865.5 598.0V607.2M1867.5 598.8V609.6M1869.5 600.6V615.9M1870.5 604.0V615.0M1874.5 608.4V620.9M1883.5 587.4V605.4M1887.5 579.9V593.0M1892.5 571.8V584.0M1896.5 572.6V585.0M1897.5 575.0V595.0M1899.5 593.0V607.8M1901.5 594.0V616.8M1908.5 584.0V606.0M1915.5 571.6V580.4M1917.5 571.8V582.6M1921.5 578.0V595.0M1924.5 591.6V608.7M1926.5 595.0V606.0M1930.5 597.0V609.6M1932.5 602.0V613.0M1933.5 604.8V613.0M1935.5 604.0V618.6M1937.5 611.0V636.6M1946.5 624.0V640.0M1951.5 618.0V627.7M1953.5 615.0V629.0M1955.5 618.6V631.0M1957.5 609.6V624.0M1960.5 611.0V620.0M1962.5 612.0V619.5M1964.5 613.7V620.8M1966.5 613.0V622.0M1968.5 618.6V625.8M1969.5 619.7V626.1M1971.5 620.0V629.0M1978.5 616.8V624.0M1980.5 617.7V629.0M1989.5 600.6V611.0M2011.5 509.7V543.9M2012.5 541.0V562.8M2014.5 552.0V578.0M2016.5 557.0V573.6M2020.5 550.4V563.6M2023.5 559.0V570.0M2025.5 562.8V579.9M2027.5 573.6V580.8M2030.5 575.0V595.0M2032.5 578.0V602.0M2036.5 598.8V611.0M2038.5 606.0V629.0M2041.5 627.6V640.0" stroke="#ff0a28" stroke-width="1" fill="none" shape-rendering="crispEdges"/>
<path d="M1.2 1025.5H2148" stroke="#7b7b7b" stroke-width="3" stroke-dasharray="3 6" shape-rendering="crispEdges"/>
<g filter="url(#sh)" stroke="#f8aa0b" stroke-width="8.6" fill="none">
<path d="M116.9 26L267.4 1019" />
<circle cx="116.9" cy="26.2" r="4.3" fill="#f8aa0b" stroke="none"/>
<path d="M273.2 1025.8L859.8 344.2"/>
<circle cx="273.2" cy="1025.8" r="4.3" fill="#f8aa0b" stroke="none"/>
<path d="M865.5 340.5L1191.9 550.4"/>
<circle cx="1191.9" cy="550.4" r="4.3" fill="#f8aa0b" stroke="none"/>
<path d="M1198.8 545.2L1399.9 234"/>
<circle cx="1399.9" cy="234" r="4.3" fill="#f8aa0b" stroke="none"/>
<path d="M1406.1 239.3L2036 647.4"/>
</g>
<g filter="url(#sh)"><path d="M2059.3 635.5L2187.5 324.5" stroke="#f9444a" stroke-width="5.2" stroke-linecap="round" fill="none"/><path d="M2193.6 309.5L2181 320.4L2194.7 323.4Z" fill="#f9444a" stroke="#f9444a" stroke-width="1" stroke-linejoin="round"/></g>
<rect x="2131.8" y="295.5" width="113.6" height="29.9" fill="none" stroke="#10ac8d" stroke-width="3" filter="url(#sh3)"/>
<text x="549.8" y="286.5" font-size="11.7" fill="#131722" text-anchor="middle" textLength="128.5" lengthAdjust="spacingAndGlyphs">51,9000 (102,47%) 519 000</text>
<text x="549.8" y="305.6" font-size="11.7" fill="#131722" text-anchor="middle" textLength="81.0" lengthAdjust="spacingAndGlyphs">Бары: 353, 495д</text>
<text x="549.8" y="324.3" font-size="11.7" fill="#131722" text-anchor="middle" textLength="42.7" lengthAdjust="spacingAndGlyphs">Объём 0</text>
<text x="174.2" y="1050.1" font-size="11.7" fill="#131722" text-anchor="middle" textLength="154.0" lengthAdjust="spacingAndGlyphs">−103,6000 (−67,16%) −1 036 000</text>
<text x="174.2" y="1069.1" font-size="11.7" fill="#131722" text-anchor="middle" textLength="69.0" lengthAdjust="spacingAndGlyphs">Бары: 66, 92д</text>
<text x="174.2" y="1088.1" font-size="11.7" fill="#131722" text-anchor="middle" textLength="42.7" lengthAdjust="spacingAndGlyphs">Объём 0</text>
<text x="1029.0" y="577.3" font-size="11.7" fill="#131722" text-anchor="middle" textLength="141.0" lengthAdjust="spacingAndGlyphs">−20,0200 (−19,52%) −200 200</text>
<text x="1029.0" y="596.3" font-size="11.7" fill="#131722" text-anchor="middle" textLength="81.0" lengthAdjust="spacingAndGlyphs">Бары: 182, 254д</text>
<text x="1029.0" y="615.3" font-size="11.7" fill="#131722" text-anchor="middle" textLength="42.7" lengthAdjust="spacingAndGlyphs">Объём 0</text>
<text x="1296.0" y="179.3" font-size="11.7" fill="#131722" text-anchor="middle" textLength="124.0" lengthAdjust="spacingAndGlyphs">32,0026 (38,78%) 320 026</text>
<text x="1296.0" y="198.3" font-size="11.7" fill="#131722" text-anchor="middle" textLength="81.0" lengthAdjust="spacingAndGlyphs">Бары: 114, 160д</text>
<text x="1296.0" y="217.3" font-size="11.7" fill="#131722" text-anchor="middle" textLength="42.7" lengthAdjust="spacingAndGlyphs">Объём 0</text>
<text x="1720.0" y="674.3" font-size="11.7" fill="#131722" text-anchor="middle" textLength="141.0" lengthAdjust="spacingAndGlyphs">−39,8976 (−34,84%) −398 976</text>
<text x="1720.0" y="693.3" font-size="11.7" fill="#131722" text-anchor="middle" textLength="81.0" lengthAdjust="spacingAndGlyphs">Бары: 360, 504д</text>
<text x="1720.0" y="712.3" font-size="11.7" fill="#131722" text-anchor="middle" textLength="53.5" lengthAdjust="spacingAndGlyphs">Объём 127</text>
<rect x="1651.5" y="649.4" width="431.9" height="30.9" fill="none" stroke="#ffffff" stroke-width="11" filter="url(#sh2)"/>
</g>
<g><clipPath id="ru"><circle cx="22.4" cy="9.8" r="5.9"/></clipPath><g clip-path="url(#ru)"><rect x="16" y="3.5" width="13" height="4.4" fill="#ffffff"/><rect x="16" y="7.9" width="13" height="3.9" fill="#2962ff"/><rect x="16" y="11.8" width="13" height="4.4" fill="#f23645"/></g>
<circle cx="16" cy="16" r="7" fill="#b0e6de"/><clipPath id="us"><circle cx="16" cy="16" r="6"/></clipPath><g clip-path="url(#us)"><rect x="9" y="9" width="14" height="14" fill="#ffffff"/><rect x="9" y="10" width="14" height="1.7" fill="#f23645"/><rect x="9" y="13.4" width="14" height="1.7" fill="#f23645"/><rect x="9" y="16.8" width="14" height="1.7" fill="#f23645"/><rect x="9" y="20.2" width="14" height="1.8" fill="#f23645"/><rect x="9" y="9" width="8" height="7.8" fill="#2962ff"/><g fill="#fff"><rect x="11.2" y="11" width="0.9" height="4.6"/><rect x="13" y="11" width="0.9" height="4.6"/><rect x="14.8" y="11" width="0.9" height="4.6"/></g></g></g>
<text x="32.4" y="18.6" font-size="15.6" fill="#131722" textLength="121.6" lengthAdjust="spacingAndGlyphs">USDRUB · 1Д · ICE</text>
<circle cx="172" cy="13.1" r="8.9" fill="#089981" fill-opacity="0.18"/><circle cx="172" cy="13.1" r="4" fill="#0e6b5c"/>
<text x="189.0" y="17.9" font-size="13.6" fill="#131722" textLength="32.5" lengthAdjust="spacingAndGlyphs">ОТКР</text>
<text x="222.0" y="17.9" font-size="13.6" fill="#089981" textLength="45.4" lengthAdjust="spacingAndGlyphs">75,9900</text>
<text x="273.4" y="17.9" font-size="13.6" fill="#131722" textLength="33.6" lengthAdjust="spacingAndGlyphs">МАКС</text>
<text x="307.5" y="17.9" font-size="13.6" fill="#089981" textLength="45.5" lengthAdjust="spacingAndGlyphs">76,3250</text>
<text x="359.0" y="17.9" font-size="13.6" fill="#131722" textLength="27.5" lengthAdjust="spacingAndGlyphs">МИН</text>
<text x="387.0" y="17.9" font-size="13.6" fill="#089981" textLength="45.5" lengthAdjust="spacingAndGlyphs">75,3999</text>
<text x="439.0" y="17.9" font-size="13.6" fill="#131722" textLength="30.0" lengthAdjust="spacingAndGlyphs">ЗАКР</text>
<text x="469.5" y="17.9" font-size="13.6" fill="#089981" textLength="45.5" lengthAdjust="spacingAndGlyphs">76,0900</text>
<text x="521.0" y="17.9" font-size="13.6" fill="#089981" textLength="46.0" lengthAdjust="spacingAndGlyphs">+0,1000</text>
<text x="572.0" y="17.9" font-size="13.6" fill="#089981" textLength="47.7" lengthAdjust="spacingAndGlyphs">(+0,13%)</text>
<text x="626.0" y="17.9" font-size="13.6" fill="#131722" textLength="41.0" lengthAdjust="spacingAndGlyphs">Объём</text>
<text x="667.6" y="17.9" font-size="13.6" fill="#089981" textLength="6.4" lengthAdjust="spacingAndGlyphs">0</text>
<rect x="10.5" y="28.5" width="31" height="20" rx="3" fill="#ffffff" fill-opacity="0.12" stroke="#e3d3d8" stroke-width="1"/>
<path d="M17 36.4L20.7 40L24.4 36.4" stroke="#131722" stroke-width="1.3" fill="none"/>
<text x="30.0" y="43.2" font-size="12.5" fill="#131722" textLength="7.0" lengthAdjust="spacingAndGlyphs">4</text>
<rect x="2191.3" y="1.3" width="59.3" height="25.5" rx="4" fill="#ffffff"/>
<text x="2195.6" y="17.8" font-size="12.4" fill="#131722" textLength="20.6" lengthAdjust="spacingAndGlyphs">RUB</text>
<path d="M2240.7 13.2L2243.4 15.8L2246.1 13.2" stroke="#131722" stroke-width="1.3" fill="none"/>
<text x="2196.7" y="72.1" font-size="12.5" fill="#131722" textLength="47.6" lengthAdjust="spacingAndGlyphs">136,0000</text>
<text x="2196.7" y="108.4" font-size="12.5" fill="#131722" textLength="47.6" lengthAdjust="spacingAndGlyphs">131,0000</text>
<text x="2196.7" y="146.0" font-size="12.5" fill="#131722" textLength="47.6" lengthAdjust="spacingAndGlyphs">126,0000</text>
<text x="2196.7" y="185.2" font-size="12.5" fill="#131722" textLength="47.6" lengthAdjust="spacingAndGlyphs">121,0000</text>
<text x="2196.7" y="217.8" font-size="12.5" fill="#131722" textLength="47.6" lengthAdjust="spacingAndGlyphs">117,0000</text>
<text x="2196.7" y="251.4" font-size="12.5" fill="#131722" textLength="47.6" lengthAdjust="spacingAndGlyphs">113,0000</text>
<text x="2196.7" y="286.3" font-size="12.5" fill="#131722" textLength="47.6" lengthAdjust="spacingAndGlyphs">109,0000</text>
<text x="2196.7" y="322.5" font-size="12.5" fill="#131722" textLength="47.6" lengthAdjust="spacingAndGlyphs">105,0000</text>
<text x="2196.7" y="360.1" font-size="12.5" fill="#131722" textLength="47.6" lengthAdjust="spacingAndGlyphs">101,0000</text>
<text x="2195.8" y="399.2" font-size="12.5" fill="#131722" textLength="42.0" lengthAdjust="spacingAndGlyphs">97,0000</text>
<text x="2195.8" y="440.0" font-size="12.5" fill="#131722" textLength="42.0" lengthAdjust="spacingAndGlyphs">93,0000</text>
<text x="2195.8" y="482.5" font-size="12.5" fill="#131722" textLength="42.0" lengthAdjust="spacingAndGlyphs">89,0000</text>
<text x="2195.8" y="527.0" font-size="12.5" fill="#131722" textLength="42.0" lengthAdjust="spacingAndGlyphs">85,0000</text>
<text x="2195.8" y="573.7" font-size="12.5" fill="#131722" textLength="42.0" lengthAdjust="spacingAndGlyphs">81,0000</text>
<text x="2195.8" y="610.2" font-size="12.5" fill="#131722" textLength="42.0" lengthAdjust="spacingAndGlyphs">78,0000</text>
<text x="2195.8" y="687.7" font-size="12.5" fill="#131722" textLength="42.0" lengthAdjust="spacingAndGlyphs">72,0000</text>
<text x="2195.8" y="728.9" font-size="12.5" fill="#131722" textLength="42.0" lengthAdjust="spacingAndGlyphs">69,0000</text>
<text x="2195.8" y="771.9" font-size="12.5" fill="#131722" textLength="42.0" lengthAdjust="spacingAndGlyphs">66,0000</text>
<text x="2195.8" y="816.9" font-size="12.5" fill="#131722" textLength="42.0" lengthAdjust="spacingAndGlyphs">63,0000</text>
<text x="2195.8" y="848.1" font-size="12.5" fill="#131722" textLength="42.0" lengthAdjust="spacingAndGlyphs">61,0000</text>
<text x="2195.8" y="880.4" font-size="12.5" fill="#131722" textLength="42.0" lengthAdjust="spacingAndGlyphs">59,0000</text>
<text x="2195.8" y="913.8" font-size="12.5" fill="#131722" textLength="42.0" lengthAdjust="spacingAndGlyphs">57,0000</text>
<text x="2195.8" y="948.4" font-size="12.5" fill="#131722" textLength="42.0" lengthAdjust="spacingAndGlyphs">55,0000</text>
<text x="2195.8" y="984.2" font-size="12.5" fill="#131722" textLength="42.0" lengthAdjust="spacingAndGlyphs">53,0000</text>
<text x="2195.8" y="1021.4" font-size="12.5" fill="#131722" textLength="42.0" lengthAdjust="spacingAndGlyphs">51,0000</text>
<text x="2195.8" y="1052.3" font-size="12.5" fill="#131722" textLength="42.0" lengthAdjust="spacingAndGlyphs">49,4000</text>
<text x="2195.8" y="1084.2" font-size="12.5" fill="#131722" textLength="42.0" lengthAdjust="spacingAndGlyphs">47,8000</text>
<text x="2195.8" y="1115.0" font-size="12.5" fill="#131722" textLength="42.0" lengthAdjust="spacingAndGlyphs">46,3000</text>
<text x="2195.8" y="1146.9" font-size="12.5" fill="#131722" textLength="42.0" lengthAdjust="spacingAndGlyphs">44,8000</text>
<rect x="2152.2" y="1017" width="34.5" height="16.7" rx="2" fill="#e3effd"/><rect x="2188" y="1017" width="56" height="16.7" rx="2" fill="#e3effd"/>
<text x="2156.0" y="1029.6" font-size="12.5" fill="#131722" textLength="25.8" lengthAdjust="spacingAndGlyphs">Мин.</text>
<text x="2195.8" y="1029.7" font-size="12.5" fill="#131722" textLength="42.0" lengthAdjust="spacingAndGlyphs">50,6500</text>
<rect x="2188" y="622" width="60" height="31" rx="2" fill="#089981"/>
<text x="2195.6" y="633.6" font-size="12.5" fill="#ffffff" font-weight="bold" textLength="41.3" lengthAdjust="spacingAndGlyphs">76,0900</text>
<text x="2196.2" y="648.0" font-size="12.2" fill="#ffffff" textLength="44.0" lengthAdjust="spacingAndGlyphs" fill-opacity="0.85">13:33:01</text>
<g fill="#131722"><path d="M13 1130.3H24.9V1144.8H18.8V1136H13Z"/><circle cx="29.8" cy="1133.1" r="2.65"/><path d="M34.8 1130.3H42.6L37.6 1144.8H30Z"/></g>
<text x="42.1" y="1210.8" font-size="12.6" fill="#131722" font-weight="bold" text-anchor="middle" textLength="26.6" lengthAdjust="spacingAndGlyphs">2022</text>
<text x="115.3" y="1210.8" font-size="12.6" fill="#131722" text-anchor="middle" textLength="21.8" lengthAdjust="spacingAndGlyphs">Мар</text>
<text x="194.1" y="1210.8" font-size="12.6" fill="#131722" text-anchor="middle" textLength="21.8" lengthAdjust="spacingAndGlyphs">Май</text>
<text x="351.5" y="1210.8" font-size="12.6" fill="#131722" text-anchor="middle" textLength="20.3" lengthAdjust="spacingAndGlyphs">Сен</text>
<text x="428.8" y="1210.8" font-size="12.6" fill="#131722" text-anchor="middle" textLength="20.3" lengthAdjust="spacingAndGlyphs">Ноя</text>
<text x="507.7" y="1210.8" font-size="12.6" fill="#131722" font-weight="bold" text-anchor="middle" textLength="26.9" lengthAdjust="spacingAndGlyphs">2023</text>
<text x="582.7" y="1210.8" font-size="12.6" fill="#131722" text-anchor="middle" textLength="21.8" lengthAdjust="spacingAndGlyphs">Мар</text>
<text x="659.9" y="1210.8" font-size="12.6" fill="#131722" text-anchor="middle" textLength="21.8" lengthAdjust="spacingAndGlyphs">Май</text>
<text x="740.5" y="1210.8" font-size="12.6" fill="#131722" text-anchor="middle" textLength="22.6" lengthAdjust="spacingAndGlyphs">Июл</text>
<text x="819.2" y="1210.8" font-size="12.6" fill="#131722" text-anchor="middle" textLength="20.3" lengthAdjust="spacingAndGlyphs">Сен</text>
<text x="973.5" y="1210.8" font-size="12.6" fill="#131722" font-weight="bold" text-anchor="middle" textLength="27.0" lengthAdjust="spacingAndGlyphs">2024</text>
<text x="1052.3" y="1210.8" font-size="12.6" fill="#131722" text-anchor="middle" textLength="21.8" lengthAdjust="spacingAndGlyphs">Мар</text>
<text x="1129.2" y="1210.8" font-size="12.6" fill="#131722" text-anchor="middle" textLength="21.8" lengthAdjust="spacingAndGlyphs">Май</text>
<text x="1287.0" y="1210.8" font-size="12.6" fill="#131722" text-anchor="middle" textLength="20.3" lengthAdjust="spacingAndGlyphs">Сен</text>
<text x="1442.7" y="1210.8" font-size="12.6" fill="#131722" font-weight="bold" text-anchor="middle" textLength="27.0" lengthAdjust="spacingAndGlyphs">2025</text>
<text x="1519.8" y="1210.8" font-size="12.6" fill="#131722" text-anchor="middle" textLength="21.8" lengthAdjust="spacingAndGlyphs">Мар</text>
<text x="1596.8" y="1210.8" font-size="12.6" fill="#131722" text-anchor="middle" textLength="21.8" lengthAdjust="spacingAndGlyphs">Май</text>
<text x="1674.0" y="1210.8" font-size="12.6" fill="#131722" text-anchor="middle" textLength="22.6" lengthAdjust="spacingAndGlyphs">Июл</text>
<text x="1752.6" y="1210.8" font-size="12.6" fill="#131722" text-anchor="middle" textLength="20.3" lengthAdjust="spacingAndGlyphs">Сен</text>
<text x="1833.3" y="1210.8" font-size="12.6" fill="#131722" text-anchor="middle" textLength="20.3" lengthAdjust="spacingAndGlyphs">Ноя</text>
<text x="1910.4" y="1210.8" font-size="12.6" fill="#131722" font-weight="bold" text-anchor="middle" textLength="27.0" lengthAdjust="spacingAndGlyphs">2026</text>
<text x="1986.0" y="1210.8" font-size="12.6" fill="#131722" text-anchor="middle" textLength="21.8" lengthAdjust="spacingAndGlyphs">Мар</text>
<text x="2141.7" y="1210.8" font-size="12.6" fill="#131722" text-anchor="middle" textLength="22.6" lengthAdjust="spacingAndGlyphs">Июл</text>
<path d="M220.0 1193H316.0V1214.8Q316.0 1216.8 314.0 1216.8H222.0Q220.0 1216.8 220.0 1214.8Z" fill="#2f62ff"/>
<text x="228.0" y="1211.2" font-size="11.6" fill="#ffffff" textLength="11.8" lengthAdjust="spacingAndGlyphs">вт</text>
<text x="243.2" y="1211.2" font-size="12.4" fill="#ffffff" font-weight="bold" textLength="63.5" lengthAdjust="spacingAndGlyphs">28/06/2022</text>
<path d="M817.0 1193H914.8V1214.8Q914.8 1216.8 912.8 1216.8H819.0Q817.0 1216.8 817.0 1214.8Z" fill="#2f62ff"/>
<text x="825.0" y="1211.2" font-size="11.6" fill="#ffffff" textLength="11.8" lengthAdjust="spacingAndGlyphs">пн</text>
<text x="840.2" y="1211.2" font-size="12.4" fill="#ffffff" font-weight="bold" textLength="63.5" lengthAdjust="spacingAndGlyphs">09/10/2023</text>
<path d="M1146.0 1193H1241.8V1214.8Q1241.8 1216.8 1239.8 1216.8H1148.0Q1146.0 1216.8 1146.0 1214.8Z" fill="#2f62ff"/>
<text x="1154.0" y="1211.2" font-size="11.6" fill="#ffffff" textLength="11.8" lengthAdjust="spacingAndGlyphs">чт</text>
<text x="1169.2" y="1211.2" font-size="12.4" fill="#ffffff" font-weight="bold" textLength="63.5" lengthAdjust="spacingAndGlyphs">20/06/2024</text>
<path d="M1350.0 1193H1446.9V1214.8Q1446.9 1216.8 1444.9 1216.8H1352.0Q1350.0 1216.8 1350.0 1214.8Z" fill="#2f62ff"/>
<text x="1358.0" y="1211.2" font-size="11.6" fill="#ffffff" textLength="11.8" lengthAdjust="spacingAndGlyphs">ср</text>
<text x="1373.2" y="1211.2" font-size="12.4" fill="#ffffff" font-weight="bold" textLength="63.5" lengthAdjust="spacingAndGlyphs">27/11/2024</text>
<path d="M1995.1 1193H2092.0V1214.8Q2092.0 1216.8 2090.0 1216.8H1997.1Q1995.1 1216.8 1995.1 1214.8Z" fill="#2f62ff"/>
<text x="2003.1" y="1211.2" font-size="11.6" fill="#ffffff" textLength="11.8" lengthAdjust="spacingAndGlyphs">ср</text>
<text x="2018.3" y="1211.2" font-size="12.4" fill="#ffffff" font-weight="bold" textLength="63.5" lengthAdjust="spacingAndGlyphs">15/04/2026</text>
<polygon points="2228.6,1207.6 2225.0,1213.8 2217.8,1213.8 2214.2,1207.6 2217.8,1201.4 2225.0,1201.4" fill="none" stroke="#131722" stroke-width="1.4" stroke-linejoin="round"/><circle cx="2221.4" cy="1207.6" r="2.3" fill="none" stroke="#131722" stroke-width="1.4"/>
</svg></body></html>
